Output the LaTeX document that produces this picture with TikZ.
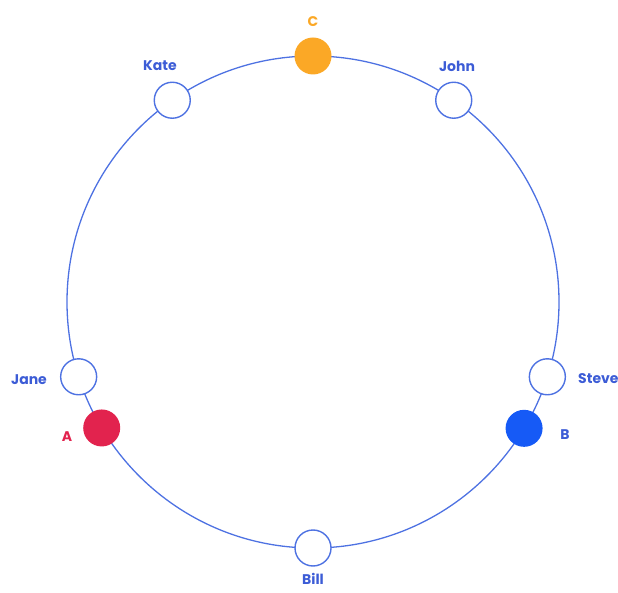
\documentclass[tikz,border=0pt]{standalone}
\usepackage{fontspec}
\setmainfont{Poppins}
\usetikzlibrary{calc}
\definecolor{ringblue}{RGB}{78,114,226}
\definecolor{labelblue}{RGB}{60,92,214}
\definecolor{corange}{RGB}{251,168,38}
\definecolor{ared}{RGB}{226,35,78}
\definecolor{bblue}{RGB}{22,90,246}
\tikzset{
  member/.style={circle, draw=ringblue, line width=1.4pt, fill=white, minimum size=36pt, inner sep=0pt},
  keynode/.style={circle, minimum size=37pt, inner sep=0pt},
  lbl/.style={font=\fontsize{14}{16}\selectfont\bfseries, text=labelblue, inner sep=0pt}
}
\begin{document}
\begin{tikzpicture}[x=1pt,y=1pt]
\useasboundingbox (0,0) rectangle (618,592);
\coordinate (ctr) at (313,290);
\draw[ringblue, line width=1.3pt] (ctr) circle (246);
\node[member] (kate) at ($(ctr)+(124.9:246)$) {};
\node[member] (john) at ($(ctr)+(55.1:246)$) {};
\node[member] (jane) at ($(ctr)+(197.7:246)$) {};
\node[member] (steve) at ($(ctr)+(-17.7:246)$) {};
\node[member] (bill) at ($(ctr)+(270:246)$) {};
\node[keynode, fill=corange] (c) at ($(ctr)+(90:246)$) {};
\node[keynode, fill=ared] (a) at ($(ctr)+(210.8:246)$) {};
\node[keynode, fill=bblue] (b) at ($(ctr)+(-30.9:246)$) {};
\node[lbl, text=corange] (lc) at (313,570) {C};
\node[lbl] (lkate) at (160,526) {Kate};
\node[lbl] (ljohn) at (457,526) {John};
\node[lbl] (ljane) at (29,212) {Jane};
\node[lbl, text=ared] (la) at (67,155) {A};
\node[lbl, anchor=west] (lsteve) at (578,213) {Steve};
\node[lbl, text=labelblue] (lb) at (565,157) {B};
\node[lbl] (lbill) at (313,13) {Bill};
\end{tikzpicture}
\end{document}
